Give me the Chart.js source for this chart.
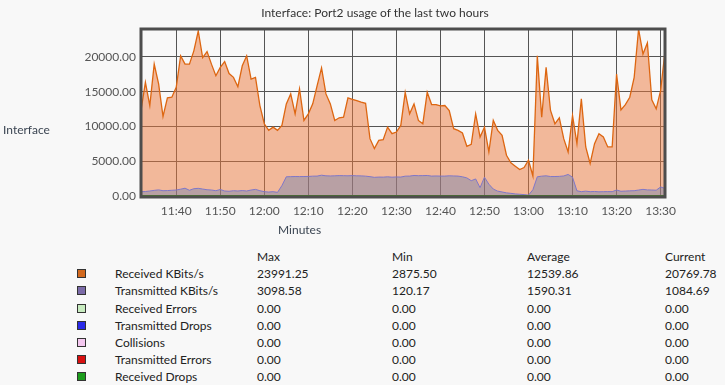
<!DOCTYPE html>
<html>
<head>
<meta charset="utf-8">
<script src="https://cdn.jsdelivr.net/npm/chart.js@4.4.0/dist/chart.umd.min.js"></script>
<style>
  body { margin: 0; background: #f8f8f8; font-family: Lato, sans-serif; }
  #wrap { position: relative; width: 725px; height: 385px; overflow: hidden; }
  #myChart { position: absolute; left: 0; top: 0; }
  .txt { position: absolute; font-size: 12px; color: #333; white-space: nowrap; }
  #title { top: 5px; left: 0; width: 750px; text-align: center; }
  #ylab { left: 3px; top: 122px; color: #3b4552; }
  #xlab { left: 278px; top: 222px; color: #3b4552; }
  #legend { position: absolute; left: 70px; top: 248px; border-collapse: collapse; font-size: 12px; color: #222; }
  #legend td { padding: 0; height: 17.2px; line-height: 17px; white-space: nowrap; }
  .sw { display: inline-block; width: 7px; height: 7px; border: 1px solid #333; margin-left: 7px; }
</style>
</head>
<body>
<div id="wrap">
  <canvas id="myChart" width="725" height="230"></canvas>
  <div class="txt" id="title">Interface: Port2 usage of the last two hours</div>
  <div class="txt" id="ylab">Interface</div>
  <div class="txt" id="xlab">Minutes</div>
  <table id="legend"></table>
</div>
<script>
// one sample per minute, 11:32 .. 13:31
const minutes = []
for (let m = 11 * 60 + 32; m <= 13 * 60 + 31; m++) {
    minutes.push(Math.floor(m / 60) + ':' + String(m % 60).padStart(2, '0'))
}

const received = [
    12290, 16330, 13000, 18950, 16100, 11430, 14100, 14190, 15620, 20140,
    18950, 18950, 20860, 23710, 19900, 20760, 18950, 17290, 18480, 19330,
    17600, 17050, 15710, 18710, 20140, 16810, 17050, 13000, 10380, 9430,
    9900, 9430, 10140, 13240, 14670, 11810, 15380, 10860, 11810, 13240,
    15860, 18400, 14670, 13240, 10860, 11240, 11330, 14100, 13900, 13710,
    13480, 13330, 8240, 6810, 8000, 8100, 9900, 8950, 9190, 10140,
    14900, 11810, 13240, 10860, 10380, 14900, 13140, 13140, 12950, 13000,
    12290, 9670, 9430, 9050, 7140, 7430, 11810, 8480, 9900, 6330,
    10860, 9430, 8710, 5860, 4760, 4290, 3810, 4100, 5140, 2875.5,
    20140, 11330, 18480, 12290, 10380, 11240, 8240, 6330, 11570, 7520,
    13950, 7050, 4670, 7520, 8950, 8480, 7050, 7050, 17520, 12380,
    13140, 14190, 17050, 23991.25, 20400, 22000, 13810, 12520, 15140, 20769.78
]

const transmitted = [
    620, 640, 720, 810, 880, 760, 780, 820, 860, 980,
    1120, 820, 1050, 1100, 1000, 900, 860, 760, 930, 720,
    680, 760, 720, 780, 720, 860, 950, 760, 620, 570,
    620, 520, 1500, 2760, 2780, 2800, 2790, 2800, 2810, 2850,
    2860, 2990, 2900, 2880, 2900, 2930, 2920, 2900, 2930, 2900,
    2890, 2850, 2780, 2680, 2720, 2710, 2760, 2700, 2740, 2720,
    2850, 2860, 2950, 2920, 2930, 2950, 2860, 2880, 2860, 2860,
    2900, 2880, 2860, 2760, 2600, 2200, 2450, 1200, 2700, 1700,
    1000, 700, 580, 450, 380, 300, 250, 200, 120.17, 900,
    2760, 2850, 2900, 2800, 2800, 2820, 2880, 3098.58, 2700, 750,
    620, 700, 620, 650, 600, 620, 630, 620, 860, 680,
    710, 740, 760, 860, 950, 880, 860, 830, 1300, 1084.69
]

// the other counters stay at zero the whole time
const zeroSeries = Array(minutes.length).fill(0)

const yTicks = [0, 5000, 10000, 15000, 20000]

const seriesNames = ['Received KBits/s', 'Transmitted KBits/s', 'Received Errors', 'Transmitted Drops', 'Collisions', 'Transmitted Errors', 'Received Drops']
const swatchColors = ['#d2691e', '#7b6ba8', '#c8ecc0', '#2a2ae8', '#f4c8f0', '#d81010', '#1c9c1c']
const statMax = ['23991.25', '3098.58', '0.00', '0.00', '0.00', '0.00', '0.00']
const statMin = ['2875.50', '120.17', '0.00', '0.00', '0.00', '0.00', '0.00']
const statAvg = ['12539.86', '1590.31', '0.00', '0.00', '0.00', '0.00', '0.00']
const statCur = ['20769.78', '1084.69', '0.00', '0.00', '0.00', '0.00', '0.00']

// plot frame
const frame = {
    id: 'frame',
    afterDraw(chart) {
        const { ctx, chartArea: a } = chart
        ctx.save()
        ctx.strokeStyle = '#4d4d4d'
        ctx.lineWidth = 3
        ctx.strokeRect(a.left, a.top, a.right - a.left, a.bottom - a.top + 1)
        ctx.restore()
    }
}

const zeroDs = (i, ord) => ({
    label: seriesNames[i],
    data: zeroSeries,
    borderColor: swatchColors[i],
    borderWidth: 1.5,
    pointRadius: 0,
    fill: false,
    order: ord
})

const ctx = document.getElementById('myChart').getContext('2d')
const myChart = new Chart(ctx, {
    type: 'line',
    data: {
        labels: minutes,
        datasets: [
            {
                label: seriesNames[0],
                data: received,
                borderColor: '#dd6611',
                backgroundColor: 'rgba(236, 120, 60, 0.5)',
                borderWidth: 1.3,
                pointRadius: 0,
                tension: 0,
                fill: 'origin',
                order: 9
            },
            {
                label: seriesNames[1],
                data: transmitted,
                borderColor: '#7f77c8',
                backgroundColor: 'rgba(100, 125, 180, 0.4)',
                borderWidth: 1,
                pointRadius: 0,
                tension: 0,
                fill: 'origin',
                order: 8
            },
            zeroDs(2, 6), zeroDs(3, 5), zeroDs(4, 4), zeroDs(5, 3), zeroDs(6, 1)
        ]
    },
    options: {
        responsive: false,
        animation: false,
        layout: { padding: { top: 29, right: 60, left: 0, bottom: 0 } },
        plugins: {
            legend: { display: false },
            title: { display: false },
            tooltip: { enabled: false }
        },
        scales: {
            x: {
                offset: false,
                grid: {
                    drawTicks: false,
                    color: c => (c.tick && c.tick.label && String(c.tick.label).endsWith('0')) ? '#555' : 'rgba(0,0,0,0)'
                },
                border: { display: false },
                ticks: {
                    autoSkip: false,
                    minRotation: 0,
                    maxRotation: 0,
                    padding: 8,
                    color: '#555',
                    font: { family: 'Lato', size: 12 },
                    callback: function (v, i) {
                        const l = minutes[i]
                        return l.endsWith('0') ? l : ''
                    }
                },
                afterFit: s => { s.height = 34 }
            },
            y: {
                min: 0,
                max: 24000,
                grid: { drawTicks: false, color: '#555' },
                border: { display: false },
                afterBuildTicks: s => { s.ticks = yTicks.map(v => ({ value: v })) },
                ticks: {
                    padding: 5,
                    color: '#555',
                    font: { family: 'Lato', size: 12 },
                    callback: v => Number(v).toFixed(2)
                },
                afterFit: s => { s.width = 141 }
            }
        }
    },
    plugins: [frame]
})

// stats table under the chart
const table = document.getElementById('legend')
let html = '<tr><td style="width:45px"></td><td style="width:142px"></td><td style="width:135px">Max</td><td style="width:135px">Min</td><td style="width:138px">Average</td><td>Current</td></tr>'
seriesNames.forEach((n, i) => {
    html += '<tr><td><span class="sw" style="background:' + swatchColors[i] + '"></span></td><td>' + n + '</td><td>' + statMax[i] + '</td><td>' + statMin[i] + '</td><td>' + statAvg[i] + '</td><td>' + statCur[i] + '</td></tr>'
})
table.innerHTML = html
</script>
</body>
</html>
